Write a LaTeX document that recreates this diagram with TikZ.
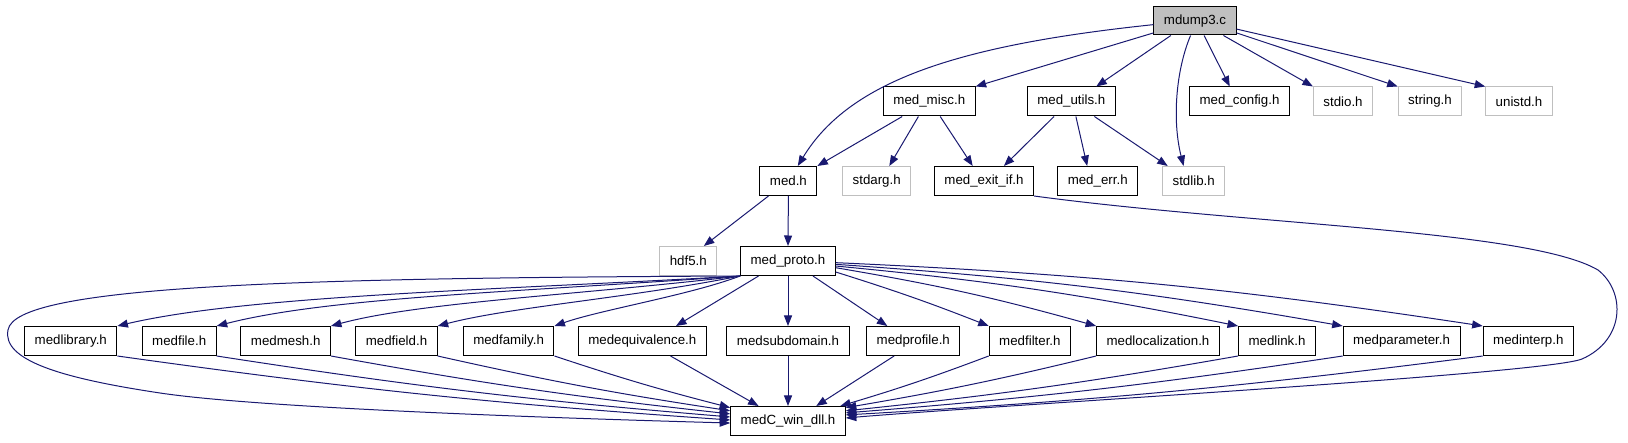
\documentclass[tikz,border=0pt]{standalone}
\usepackage{fontspec}
\setmainfont{Liberation Sans}
\usetikzlibrary{arrows.meta}
\definecolor{edgeblue}{HTML}{191970}
\definecolor{rootgray}{HTML}{BFBFBF}
\definecolor{extgray}{HTML}{BFBFBF}
\begin{document}
\begin{tikzpicture}[x=1pt,y=-1pt,
  box/.style={draw=black, fill=white, line width=1pt, minimum height=29pt, inner xsep=10pt, inner ysep=0pt, font=\fontsize{13.3}{16}\selectfont},
  ext/.style={box, draw=extgray},
  root/.style={box, fill=rootgray, minimum height=28pt},
  dep/.style={draw=edgeblue, line width=1pt, -{Triangle[length=10.5pt,width=8pt]}}]
\useasboundingbox (0,0) rectangle (1628,443);
% nodes
\node[root] (mdump) at (1195,21) {mdump3.c};
\node[box] (misc) at (929.3,101.5) {med\_misc.h};
\node[box] (utils) at (1071.3,101.5) {med\_utils.h};
\node[box] (config) at (1239.5,101.5) {med\_config.h};
\node[ext] (stdio) at (1343,101.5) {stdio.h};
\node[ext] (string) at (1430,101.5) {string.h};
\node[ext] (unistd) at (1519,101.5) {unistd.h};
\node[box] (med) at (788.4,181) {med.h};
\node[ext] (stdarg) at (876.7,181) {stdarg.h};
\node[box] (exit) at (984,181) {med\_exit\_if.h};
\node[box] (err) at (1097.7,181) {med\_err.h};
\node[ext] (stdlib) at (1193.7,181) {stdlib.h};
\node[ext] (hdf5) at (688.3,261) {hdf5.h};
\node[box] (proto) at (788,261) {med\_proto.h};
\node[box] (lib) at (70.8,341) {medlibrary.h};
\node[box] (file) at (179.2,341) {medfile.h};
\node[box] (mesh) at (285.7,341) {medmesh.h};
\node[box] (field) at (396.5,341) {medfield.h};
\node[box] (family) at (508.6,341) {medfamily.h};
\node[box] (equiv) at (642.3,341) {medequivalence.h};
\node[box] (subdom) at (788,341) {medsubdomain.h};
\node[box] (profile) at (913.3,341) {medprofile.h};
\node[box] (filter) at (1029.9,341) {medfilter.h};
\node[box] (loc) at (1158,341) {medlocalization.h};
\node[box] (link) at (1277,341) {medlink.h};
\node[box] (param) at (1401.6,341) {medparameter.h};
\node[box] (interp) at (1528.3,341) {medinterp.h};
\node[box] (medC) at (788,421) {medC\_win\_dll.h};
% edges from mdump3.c
\draw[dep] (mdump.185) .. controls (960,45) and (850,80) .. (med.58);
\draw[dep] (mdump.196) -- (misc.north east);
\draw[dep] (mdump.211) -- (utils.31);
\draw[dep] (mdump.253) .. controls (1176,70) and (1172,120) .. (stdlib.124);
\draw[dep] (mdump.-58) -- (config.123);
\draw[dep] (mdump.-27) -- (stdio.north west);
\draw[dep] (mdump.-16) -- (string.north west);
\draw[dep] (mdump.-11) -- (unistd.north west);
% med_misc.h
\draw[dep] (misc.209) -- (med.north east);
\draw[dep] (misc.234) -- (stdarg.50);
\draw[dep] (misc.-54) -- (exit.127);
% med_utils.h
\draw[dep] (utils.221) -- (exit.37);
\draw[dep] (utils.-73) -- (err.125);
\draw[dep] (utils.-33) -- (stdlib.150);
% med.h
\draw[dep] (med.217) -- (hdf5.44);
\draw[dep] (med.south) -- (proto.north);
% med_exit_if.h
\draw[dep] (exit.south east) .. controls (1250,225) and (1530,230) .. (1598,270)
  .. controls (1626,292) and (1625,340) .. (1582,359)
  .. controls (1545,374) and (1000,405) .. (medC.3);
% med_proto.h
\draw[dep] (proto.south west) .. controls (300,278) and (15,285) .. (8,330)
  .. controls (2,360) and (60,378) .. (160,393)
  .. controls (260,408) and (550,418) .. (medC.182);
\draw[dep] (proto.south west) .. controls (500,290) and (250,295) .. (lib.north east);
\draw[dep] (proto.south west) .. controls (520,292) and (330,297) .. (file.north east);
\draw[dep] (proto.south west) .. controls (580,295) and (420,302) .. (mesh.north east);
\draw[dep] (proto.south west) .. controls (630,298) and (510,307) .. (field.north east);
\draw[dep] (proto.south west) .. controls (690,295) and (600,310) .. (family.north east);
\draw[dep] (proto.207) -- (equiv.24);
\draw[dep] (proto.south) -- (subdom.north);
\draw[dep] (proto.-31) -- (profile.150);
\draw[dep] (proto.-13) to[bend left=2] (filter.north west);
\draw[dep] (proto.-8) to[bend left=3] (loc.north west);
\draw[dep] (proto.-6) to[bend left=3] (link.north west);
\draw[dep] (proto.-4) to[bend left=3] (param.north west);
\draw[dep] (proto.-2) to[bend left=3] (interp.north west);
% row 4 to medC_win_dll.h
\draw[dep] (lib.south east) to[bend right=2] (medC.179);
\draw[dep] (file.south east) to[bend right=2] (medC.176);
\draw[dep] (mesh.south east) to[bend right=2] (medC.173);
\draw[dep] (field.south east) to[bend right=2] (medC.170);
\draw[dep] (family.south east) to[bend right=2] (medC.167);
\draw[dep] (equiv.-28) -- (medC.153);
\draw[dep] (subdom.south) -- (medC.north);
\draw[dep] (profile.218) -- (medC.28);
\draw[dep] (filter.south west) to[bend left=2] (medC.16);
\draw[dep] (loc.south west) to[bend left=2] (medC.13);
\draw[dep] (link.south west) to[bend left=2] (medC.10);
\draw[dep] (param.south west) to[bend left=2] (medC.8);
\draw[dep] (interp.south west) to[bend left=2] (medC.6);
\end{tikzpicture}
\end{document}
